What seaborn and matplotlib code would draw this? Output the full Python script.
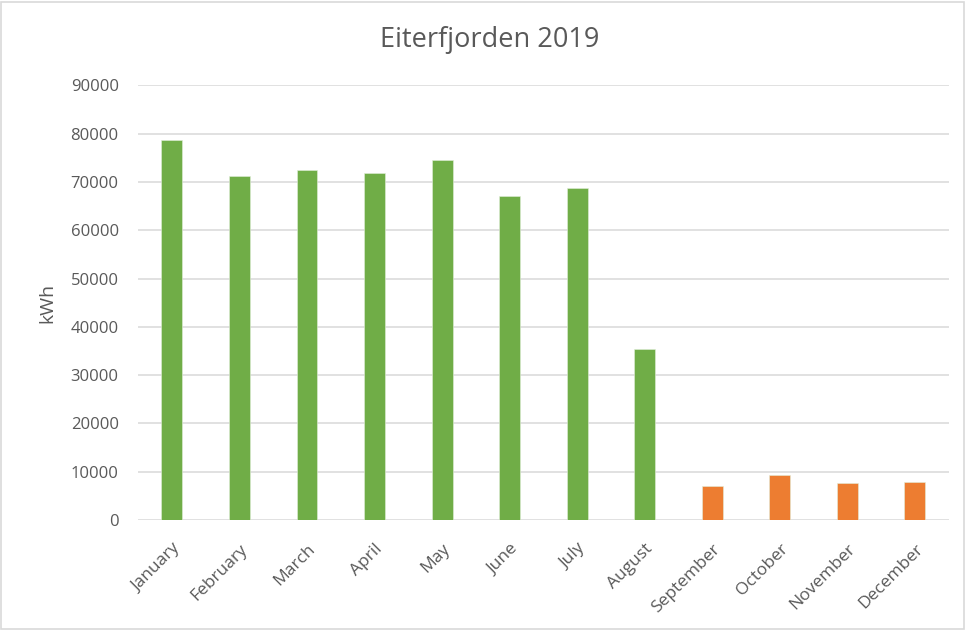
import matplotlib
matplotlib.use("Agg")
import matplotlib.pyplot as plt
from matplotlib.patches import Rectangle
import seaborn as sns
import pandas as pd

months = ["January", "February", "March", "April", "May", "June",
          "July", "August", "September", "October", "November", "December"]
energy_kwh = [78700, 71200, 72500, 71800, 74600, 67000,
              68700, 35400, 7100, 9300, 7600, 7800]
bar_colors = ["#70AD47"] * 8 + ["#ED7D31"] * 4
y_ticks = [0, 10000, 20000, 30000, 40000, 50000, 60000, 70000, 80000, 90000]

sns.set_theme(style="white")
plt.rcParams["font.family"] = ["Open Sans", "DejaVu Sans"]
text_color = "#595959"

df = pd.DataFrame({"month": months, "kWh": energy_kwh})

fig = plt.figure(figsize=(9.66, 6.30), dpi=100)
ax = fig.add_axes([0.143, 0.1746, 0.839, 0.69])

sns.barplot(data=df, x="month", y="kWh", hue="month", palette=bar_colors,
            saturation=1, legend=False, width=0.31, ax=ax,
            edgecolor="#E2EFDA", linewidth=0.4, zorder=3)

ax.set_ylim(0, 90000)
ax.set_xlim(-0.5, len(months) - 0.5)
ax.set_yticks(y_ticks)
ax.set_yticklabels([str(v) for v in y_ticks], fontsize=12, color=text_color)
ax.yaxis.grid(True, color="#D9D9D9", linewidth=1.1, zorder=0)
ax.set_axisbelow(True)
for s in ax.spines.values():
    s.set_visible(False)
ax.tick_params(axis="x", length=0, pad=15)
ax.tick_params(axis="y", length=0, pad=14)

ax.set_xticks(range(len(months)))
ax.set_xticklabels(months, rotation=45, ha="right", rotation_mode="anchor",
                   fontsize=12.5, color=text_color)

ax.set_xlabel("")
ax.set_ylabel("kWh", fontsize=14, color=text_color, labelpad=10)

fig.text(0.507, 0.937, "Eiterfjorden 2019", ha="center", va="center",
         fontsize=19.5, color=text_color)

fig.patches.append(Rectangle((0.001, 0.0015), 0.997, 0.996,
                             transform=fig.transFigure, fill=False,
                             edgecolor="#D9D9D9", linewidth=1.2))

fig.savefig("out.png", dpi=100, facecolor="white")
